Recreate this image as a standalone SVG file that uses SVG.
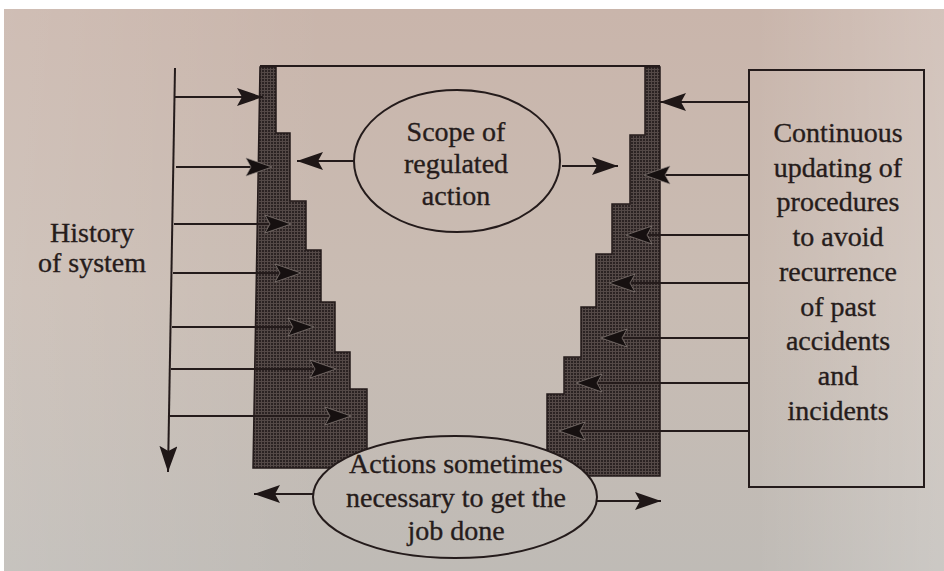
<svg xmlns="http://www.w3.org/2000/svg" width="944" height="571" viewBox="0 0 944 571">
  <defs>
    <linearGradient id="paper" gradientUnits="userSpaceOnUse" x1="0" y1="9" x2="0" y2="571">
      <stop offset="0" stop-color="#c9b5ab"/>
      <stop offset="0.5" stop-color="#c9bcb3"/>
      <stop offset="1" stop-color="#bfbbb6"/>
    </linearGradient>
    <linearGradient id="sheen" gradientUnits="userSpaceOnUse" x1="0" y1="0" x2="944" y2="0">
      <stop offset="0" stop-color="#ffffff" stop-opacity="0.12"/>
      <stop offset="0.35" stop-color="#ffffff" stop-opacity="0"/>
      <stop offset="0.8" stop-color="#ffffff" stop-opacity="0"/>
      <stop offset="1" stop-color="#ffffff" stop-opacity="0.2"/>
    </linearGradient>
    <!-- fine screen used for the shaded step blocks -->
    <pattern id="screen" patternUnits="userSpaceOnUse" width="3" height="3">
      <rect width="3" height="3" fill="#2b2323"/>
      <path d="M0,0.5 H3 M0.5,0 V3" stroke="#544947" stroke-width="1"/>
    </pattern>
    <marker id="ah" viewBox="0 0 26 18" refX="26" refY="9" markerWidth="26" markerHeight="18" markerUnits="userSpaceOnUse" orient="auto">
      <path d="M0,0 L26,9 L0,18 L5,9 z" fill="#1f1717"/>
    </marker>
    <!-- same head with a faint pale rim, for heads lying on the dark screen -->
    <marker id="ahd" viewBox="-2 -2 30 22" refX="26" refY="9" markerWidth="30" markerHeight="22" markerUnits="userSpaceOnUse" orient="auto">
      <path d="M0,0 L26,9 L0,18 L5,9 z" fill="#161010" stroke="#8a807c" stroke-width="1" stroke-opacity="0.7" stroke-linejoin="round"/>
    </marker>
    <style>
      .ln { stroke: #241b1b; stroke-width: 2; fill: none; }
      .arr { stroke: #241b1b; stroke-width: 2; fill: none; marker-end: url(#ah); }
      .arr.in { marker-end: url(#ahd); }
      .steps { fill: url(#screen); stroke: #241b1b; stroke-width: 1.5; }
      .lbl { font-family: "Liberation Serif", "Times New Roman", serif; font-size: 28px; fill: #261c1b; stroke: #261c1b; stroke-width: 0.35; text-anchor: middle; }
    </style>
  </defs>

  <!-- page -->
  <rect width="944" height="571" fill="#ffffff"/>
  <rect x="4" y="9" width="940" height="562" fill="url(#paper)"/>
  <rect x="4" y="9" width="940" height="562" fill="url(#sheen)"/>

  <!-- top boundary joining the two step blocks -->
  <g id="frame">
    <path class="ln" d="M260,66 H660"/>
  </g>

  <g id="left-steps">
    <polygon class="steps" points="260,67 276,67 276,133 290,133 290,201 306,201 306,250 321,250 321,302 335,302 335,352 350,352 350,389 367,389 367,468 253,468"/>
  </g>

  <g id="right-steps">
    <polygon class="steps" points="645,67 660,67 660,476 547,476 547,394 564,394 564,357 581,357 581,307 596,307 596,254 612,254 612,204 630,204 630,135 645,135"/>
  </g>

  <g id="history">
    <text class="lbl" x="92" y="242">History</text>
    <text class="lbl" x="92" y="272">of system</text>
  </g>

  <g id="scope">
    <ellipse class="ln" cx="457" cy="161" rx="103" ry="71"/>
    <text class="lbl" x="456" y="141">Scope of</text>
    <text class="lbl" x="456" y="173">regulated</text>
    <text class="lbl" x="456" y="205">action</text>
  </g>

  <g id="updating">
    <rect class="ln" x="749" y="70" width="175" height="417"/>
    <text class="lbl" x="838" y="142">Continuous</text>
    <text class="lbl" x="838" y="177">updating of</text>
    <text class="lbl" x="838" y="211">procedures</text>
    <text class="lbl" x="838" y="246">to avoid</text>
    <text class="lbl" x="838" y="281">recurrence</text>
    <text class="lbl" x="838" y="316">of past</text>
    <text class="lbl" x="838" y="350">accidents</text>
    <text class="lbl" x="838" y="385">and</text>
    <text class="lbl" x="838" y="420">incidents</text>
  </g>

  <g id="actions">
    <ellipse cx="455" cy="497" rx="142" ry="61" fill="url(#paper)" stroke="#241b1b" stroke-width="2"/>
    <text class="lbl" x="456" y="473">Actions sometimes</text>
    <text class="lbl" x="456" y="507">necessary to get the</text>
    <text class="lbl" x="456" y="540">job done</text>
  </g>

  <g id="connectors">
    <!-- time axis -->
    <path class="arr" d="M175,68 L168,472"/>
    <!-- history into the regulated boundary -->
    <path class="arr" d="M175,97 H263"/>
    <path class="arr in" d="M176,167 H272"/>
    <path class="arr in" d="M174,224 H291"/>
    <path class="arr in" d="M173,273 H301"/>
    <path class="arr in" d="M172,327 H314"/>
    <path class="arr in" d="M171,369 H336"/>
    <path class="arr in" d="M170,416 H351"/>
    <!-- procedure updates into the boundary -->
    <path class="arr" d="M749,102 H660"/>
    <path class="arr in" d="M749,175 H644"/>
    <path class="arr in" d="M749,235 H626"/>
    <path class="arr in" d="M749,283 H609"/>
    <path class="arr in" d="M749,338 H601"/>
    <path class="arr in" d="M749,383 H576"/>
    <path class="arr in" d="M749,431 H559"/>
    <!-- scope ellipse outward -->
    <path class="arr" d="M354,161 H297"/>
    <path class="arr" d="M562,166 H618"/>
    <!-- actions ellipse outward -->
    <path class="arr" d="M313,494 H254"/>
    <path class="arr" d="M597,501 H661"/>
  </g>
</svg>
